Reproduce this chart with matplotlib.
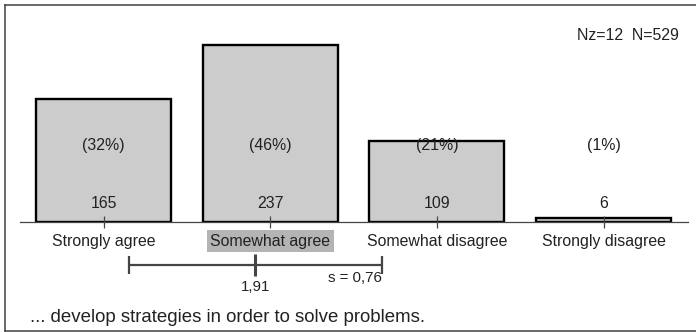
import matplotlib
matplotlib.use("Agg")
import matplotlib.pyplot as plt
from matplotlib.lines import Line2D

categories = ["Strongly agree", "Somewhat agree", "Somewhat disagree", "Strongly disagree"]
counts = [165, 237, 109, 6]
percents = ["(32%)", "(46%)", "(21%)", "(1%)"]
highlight_index = 1
mean_value = 1.91
std_value = 0.76
mean_label = "1,91"
std_label = "s = 0,76"
n_label = "Nz=12  N=529"
title = "... develop strategies in order to solve problems."

plt.rcParams["font.family"] = ["Liberation Sans", "DejaVu Sans"]
TXT = "#222222"
DARK = "#454545"

fig = plt.figure(figsize=(6.96, 3.32), dpi=100)
W, H = 696, 332
# axes: baseline at y=222px from top, spans x 20..688px
ax = fig.add_axes([20 / W, 110 / H, 668 / W, 217 / H])
px_per_cat = 166.67
x0_px = 103.5
ax.set_xlim((20 - x0_px) / px_per_cat, (688 - x0_px) / px_per_cat)
ax.set_ylim(0, 217 / 0.747)

xs = list(range(len(categories)))
ax.bar(xs, counts, width=0.81, color="#cccccc", edgecolor="black", linewidth=1.7, zorder=1)

for s in ["top", "left", "right"]:
    ax.spines[s].set_visible(False)
ax.spines["bottom"].set_color(DARK)
ax.spines["bottom"].set_linewidth(0.9)
ax.set_yticks([])
ax.set_xticks(xs)
ax.set_xticklabels([])
ax.tick_params(axis="x", direction="inout", length=8, width=0.9, color=DARK)

fs = 11.4
for i in xs:
    ax.text(i, 96.8, percents[i], ha="center", va="baseline", fontsize=fs, color=TXT)
    ax.text(i, 18.7, str(counts[i]), ha="center", va="baseline", fontsize=fs, color=TXT)
    kw = {}
    if i == highlight_index:
        kw["bbox"] = dict(boxstyle="square,pad=0.22", fc="#b4b4b4", ec="none")
    ax.text(i, -32.1, categories[i], ha="center", va="baseline", fontsize=fs,
            color=TXT, clip_on=False, **kw)

ax.text((679 - x0_px) / px_per_cat, 243.6, n_label, ha="right", va="baseline",
        fontsize=fs, color=TXT)

# mean / std indicator
m = mean_value - 1
lo, hi = m - std_value, m + std_value
ym = -57.6
ax.plot([lo, hi], [ym, ym], color=DARK, lw=1.6, clip_on=False, solid_capstyle="butt")
for xx in (lo, hi):
    ax.plot([xx, xx], [ym - 11.5, ym + 11.5], color=DARK, lw=1.6, clip_on=False,
            solid_capstyle="butt")
ax.plot([m, m], [ym - 15, ym + 15], color=DARK, lw=2.2, clip_on=False, solid_capstyle="butt")
ax.text(m, -92.4, mean_label, ha="center", va="baseline", fontsize=10.8, color=TXT)
ax.text(hi, -79.9, std_label, ha="right", va="baseline", fontsize=10.8, color=TXT)

fig.text(30 / W, (H - 321.7) / H, title, ha="left", va="baseline", fontsize=13.4, color=TXT)

# outer frame (left, top, bottom)
fc = "#404040"
fig.add_artist(Line2D([4.5 / W, 4.5 / W], [(H - 5) / H, (H - 330.5) / H], transform=fig.transFigure, color=fc, lw=1.1))
fig.add_artist(Line2D([4.5 / W, 1], [(H - 5) / H, (H - 5) / H], transform=fig.transFigure, color=fc, lw=1.1))
fig.add_artist(Line2D([4.5 / W, 1], [(H - 330.5) / H, (H - 330.5) / H], transform=fig.transFigure, color=fc, lw=1.1))

fig.savefig("out.png", dpi=100)
